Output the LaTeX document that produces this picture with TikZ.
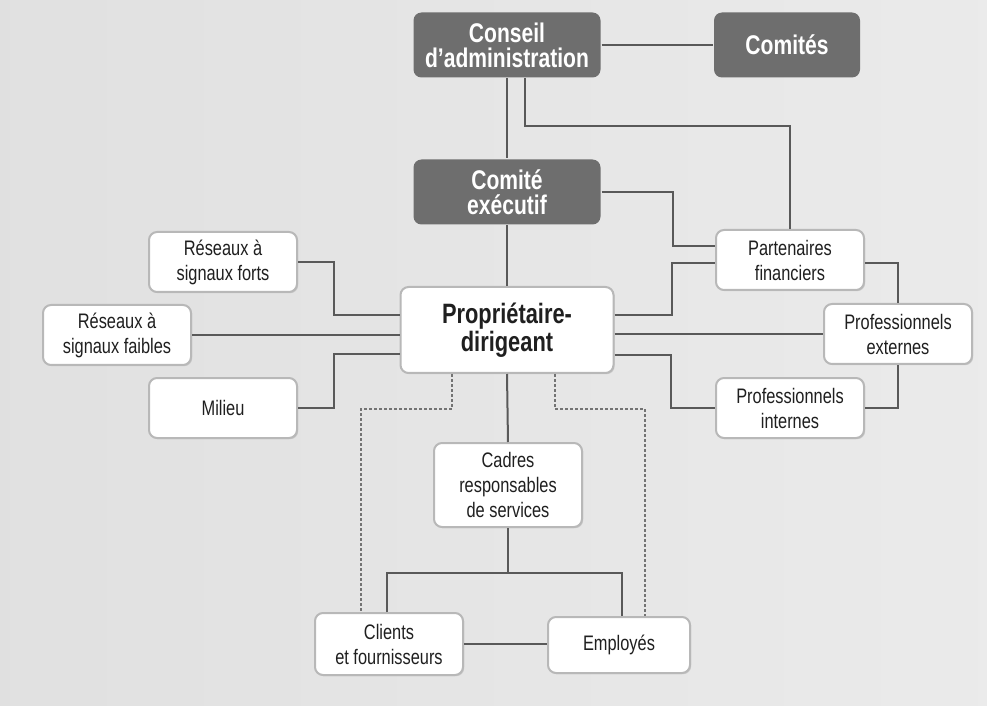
\documentclass[tikz,border=0pt]{standalone}
\usepackage{fontspec}
\setmainfont{Liberation Sans}[FakeStretch=0.78]
\usetikzlibrary{shadows}

\begin{document}
\begin{tikzpicture}[x=0.5pt, y=-0.5pt, line width=1pt]
        \tikzstyle{dark} = [rectangle, rounded corners=4pt, fill=black!57, text=white, font=\fontsize{13.5}{12.5}\selectfont\bfseries, align=center, minimum width=93.5pt, minimum height=32.5pt, inner sep=2pt]
        \tikzstyle{box} = [rectangle, rounded corners=4pt, draw=black!28, fill=white, text=black!88, font=\fontsize{10.5}{12.5}\selectfont, align=center, minimum width=74pt, minimum height=30pt, inner sep=2pt, drop shadow={shadow xshift=0.6pt, shadow yshift=-0.6pt, opacity=0.25}]
        \tikzstyle{main} = [box, font=\fontsize{14}{12.5}\selectfont\bfseries, minimum width=106.5pt, minimum height=43pt]
        \tikzstyle{link} = [draw=black!65, line width=1pt]
        \tikzstyle{dotlink} = [draw=black!55, line width=0.9pt, dash pattern=on 1.5pt off 1pt]

        \shade[left color=black!12, middle color=black!1, right color=black!8] (0,0) rectangle (987,706);
        \useasboundingbox (0,0) rectangle (987,706);

        \node[dark](conseil) at (507,45) {Conseil\\d’administration};
        \node[dark, minimum width=73pt](comites) at (787,45) {Comités};
        \node[dark](comite_exec) at (507,192) {Comité\\exécutif};
        \node[main](proprio) at (507,330) {Propriétaire-\\dirigeant};
        \node[box](res_forts) at (223,262) {Réseaux à\\signaux forts};
        \node[box](res_faibles) at (117,335) {Réseaux à\\signaux faibles};
        \node[box](milieu) at (223,408) {Milieu};
        \node[box](part_fin) at (790,260) {Partenaires\\financiers};
        \node[box](prof_ext) at (898,334) {Professionnels\\externes};
        \node[box](prof_int) at (790,408) {Professionnels\\internes};
        \node[box, minimum height=42pt](cadres) at (508,485) {Cadres\\responsables\\de services};
        \node[box, minimum height=31pt](clients) at (389,644) {Clients\\et fournisseurs};
        \node[box, minimum width=71pt, minimum height=28pt](employes) at (619,645) {Employés};

        \draw[link] (conseil.east) -- (comites.west);
        \draw[link] (conseil.south) -- (comite_exec.north);
        \draw[link] ([xshift=9pt]conseil.south) -- ++(0,48) -| (part_fin.north);
        \draw[link] (comite_exec.south) -- (proprio.north);
        \draw[link] (comite_exec.east) -| ([xshift=-21pt,yshift=7pt]part_fin.west) -- ([yshift=7pt]part_fin.west);
        \draw[link] ([yshift=7.5pt]proprio.east) -| ([xshift=-21.5pt,yshift=-1.5pt]part_fin.west) -- ([yshift=-1.5pt]part_fin.west);
        \draw[link] ([yshift=-1.5pt]part_fin.east) -| (prof_ext.north);
        \draw[link] (prof_ext.west -| proprio.east) -- (prof_ext.west);
        \draw[link] ([yshift=-12.5pt]proprio.east) -| ([xshift=-22pt]prof_int.west) -- (prof_int.west);
        \draw[link] (prof_int.east) -| (prof_ext.south);

        \draw[link] (res_forts.east) -| ([xshift=-33pt,yshift=7.5pt]proprio.west) -- ([yshift=7.5pt]proprio.west);
        \draw[link] (res_faibles.east) -- (res_faibles.east -| proprio.west);
        \draw[link] (milieu.east) -| ([xshift=-33pt,yshift=-12pt]proprio.west) -- ([yshift=-12pt]proprio.west);

        \draw[link] (proprio.south) -- (cadres.north);
        \draw[link] (cadres.south) -- ++(0,45) coordinate (split);
        \draw[link] ([xshift=-1pt]clients.north) |- (split) -| ([xshift=1.5pt]employes.north);
        \draw[link] (clients.east) -- (clients.east -| employes.west);
        \draw[dotlink] ([xshift=-27.5pt]proprio.south) -- ++(0,35) -| ([xshift=-14pt]clients.north);
        \draw[dotlink] ([xshift=24pt]proprio.south) -- ++(0,35) -| ([xshift=13pt]employes.north);
\end{tikzpicture}
\end{document}
